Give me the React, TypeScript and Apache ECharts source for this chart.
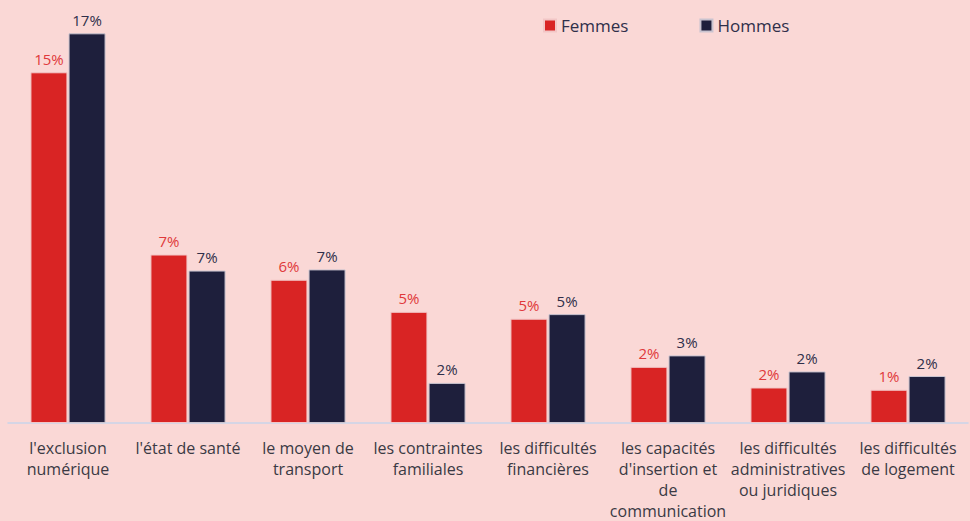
import React, { useEffect, useRef } from "react";
import * as echarts from "echarts";

const categories = [
  "l'exclusion\nnumérique",
  "l'état de santé",
  "le moyen de\ntransport",
  "les contraintes\nfamiliales",
  "les difficultés\nfinancières",
  "les capacités\nd'insertion et\nde\ncommunication",
  "les difficultés\nadministratives\nou juridiques",
  "les difficultés\nde logement",
];
const femmes = [15.3, 7.35, 6.25, 4.85, 4.55, 2.45, 1.55, 1.45];
const hommes = [17.0, 6.65, 6.7, 1.75, 4.75, 2.95, 2.25, 2.05];

const FONT = "Open Sans";

export default function App() {
  const ref = useRef<HTMLDivElement>(null);
  useEffect(() => {
    if (!ref.current) return;
    const chart = echarts.init(ref.current, null, { renderer: "svg" });
    const fmt = (p: any) => Math.round(p.value) + "%";
    chart.setOption({
      animation: false,
      backgroundColor: "#fad8d6",
      textStyle: { fontFamily: FONT },
      legend: {
        data: ["Femmes", "Hommes"],
        left: 543,
        top: 17,
        padding: 0,
        icon: "rect",
        itemWidth: 12,
        itemHeight: 12,
        itemGap: 71,
        textStyle: { fontFamily: FONT, fontSize: 17, color: "#2f2f4a" },
      },
      grid: { left: 8, right: 2, top: 10.4, bottom: 93, containLabel: false },
      xAxis: {
        type: "category",
        data: categories,
        axisLine: { lineStyle: { color: "#c9d4ea", width: 1.5 } },
        axisTick: { show: false },
        axisLabel: {
          interval: 0,
          fontFamily: FONT,
          fontSize: 16,
          lineHeight: 21,
          color: "#3a3a44",
          margin: 14,
          verticalAlign: "top",
        },
      },
      yAxis: {
        type: "value",
        min: 0,
        max: 18,
        show: false,
        splitLine: { show: false },
      },
      series: [
        {
          name: "Femmes",
          type: "bar",
          data: femmes,
          barWidth: 37,
          barGap: "3%",
          itemStyle: { color: "#d92424", borderColor: "#f2c6c6", borderWidth: 1 },
          label: {
            show: true,
            position: "top",
            distance: 6,
            formatter: fmt,
            fontFamily: FONT,
            fontSize: 15,
            color: "#e0393b",
          },
        },
        {
          name: "Hommes",
          type: "bar",
          data: hommes,
          barWidth: 37,
          itemStyle: { color: "#1e1f3c", borderColor: "#c9c3cf", borderWidth: 1 },
          label: {
            show: true,
            position: "top",
            distance: 6,
            formatter: fmt,
            fontFamily: FONT,
            fontSize: 15,
            color: "#2f2f4a",
          },
        },
      ],
    });
    return () => chart.dispose();
  }, []);
  return (
    <div
      ref={ref}
      style={{ position: "fixed", left: 0, top: 0, width: 970, height: 521 }}
    />
  );
}
